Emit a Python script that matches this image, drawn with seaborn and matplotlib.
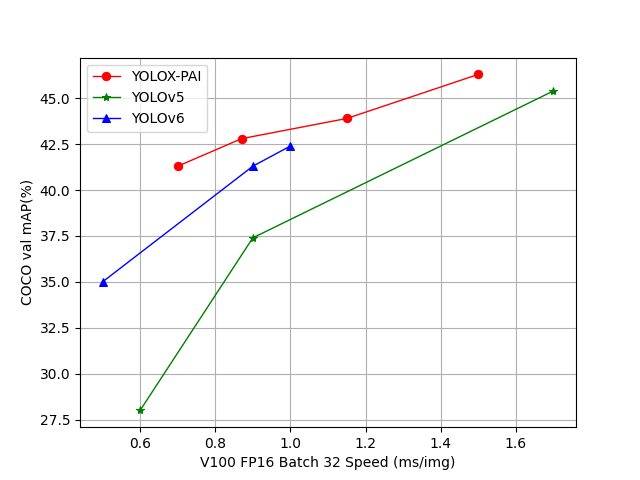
import matplotlib
matplotlib.use("Agg")
import matplotlib.pyplot as plt
import seaborn as sns

# Speed (ms/img) and COCO val mAP per model
pai_speed = [0.7, 0.87, 1.15, 1.5]
pai_map = [41.3, 42.8, 43.9, 46.3]
v5_speed = [0.6, 0.9, 1.7]
v5_map = [28.0, 37.4, 45.4]
v6_speed = [0.5, 0.9, 1.0]
v6_map = [35.0, 41.3, 42.4]

fig, ax = plt.subplots(figsize=(6.4, 4.8), dpi=100)
sns.lineplot(x=pai_speed, y=pai_map, ax=ax, color='red', marker='o', markersize=6,
             markeredgecolor='red', linewidth=1, label='YOLOX-PAI', sort=False)
sns.lineplot(x=v5_speed, y=v5_map, ax=ax, color='green', marker='*', markersize=6,
             markeredgecolor='green', linewidth=1, label='YOLOv5', sort=False)
sns.lineplot(x=v6_speed, y=v6_map, ax=ax, color='blue', marker='^', markersize=6,
             markeredgecolor='blue', linewidth=1, label='YOLOv6', sort=False)

ax.set_xlabel("V100 FP16 Batch 32 Speed (ms/img)")
ax.set_ylabel("COCO val mAP(%)")
ax.grid(True)
ax.legend(loc='upper left')
plt.savefig("out.png", dpi=100)
